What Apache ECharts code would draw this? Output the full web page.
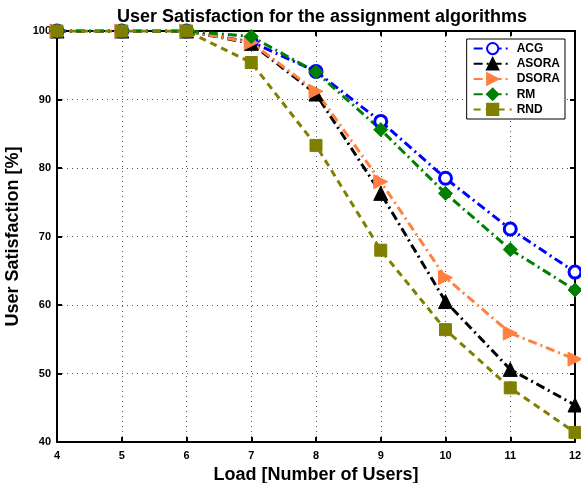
<!DOCTYPE html>
<html><head><meta charset="utf-8">
<script src="https://cdn.jsdelivr.net/npm/echarts@6/dist/echarts.min.js"></script>
<style>html,body{margin:0;padding:0;background:#fff;overflow:hidden}#c{width:581px;height:483px}</style>
</head><body><div id="c"></div>
<script>
const loads = [4,5,6,7,8,9,10,11,12];
const ACG   = [100,100,100,98.4,94.1,86.8,78.5,71.1,64.8];
const ASORA = [100,100,100,98.2,90.8,76.3,60.5,50.6,45.4];
const DSORA = [100,100,100,98.3,91.2,78.0,64.0,55.9,52.1];
const RM    = [100,100,100,99.2,94.0,85.6,76.3,68.1,62.2];
const RND   = [100,100,100,95.4,83.3,68.0,56.4,47.9,41.4];
const yTicks = [40,50,60,70,80,90,100];

const font = 'Liberation Sans, Arial, Helvetica, sans-serif';
function pair(arr){ return loads.map((x,i)=>[x,arr[i]]); }
function mk(name, data, color, symbol, dash, size, hollow){
  return {
    name, type:'line', data:pair(data), symbol, symbolSize:size,
    lineStyle:{color, width:3, type:dash},
    itemStyle:{color: hollow ? '#fff' : color, borderColor:color, borderWidth: hollow?3:1},
    z: 3
  };
}
const dashDot = [9,4,2,4];
const chart = echarts.init(document.getElementById('c'), null, {renderer:'canvas'});
chart.setOption({
  animation:false,
  backgroundColor:'#fff',
  textStyle:{fontFamily:font},
  title:{text:'User Satisfaction for the assignment algorithms', left:317, top:3, textAlign:'center',
    textStyle:{fontSize:18, fontWeight:'bold', color:'#000', fontFamily:font}},
  grid:{left:57, right:6, top:31, bottom:41, show:true, borderColor:'#000', borderWidth:2,
    containLabel:false, outerBoundsMode:'none'},
  legend:{
    orient:'vertical', right:16, top:39, backgroundColor:'#fff', borderColor:'#000', borderWidth:1,
    padding:[3,5,3,6], itemGap:2, itemWidth:38, itemHeight:14,
    textStyle:{fontSize:12, fontWeight:'bold', color:'#000', fontFamily:font},
    data:['ACG','ASORA','DSORA','RM','RND']
  },
  xAxis:[{
    type:'value', min:4, max:12, interval:1,
    name:'Load [Number of Users]', nameLocation:'middle', nameGap:17,
    nameTextStyle:{fontSize:18, fontWeight:'bold', color:'#000', fontFamily:font},
    axisLine:{lineStyle:{color:'#000', width:2}},
    axisTick:{inside:true, length:5, lineStyle:{color:'#000', width:2}},
    axisLabel:{fontSize:11, fontWeight:'bold', color:'#000', margin:8, fontFamily:font},
    splitLine:{show:true, lineStyle:{color:'#555', type:[1,4], width:1}}
  },{
    type:'value', min:4, max:12, interval:1, position:'top',
    axisLine:{lineStyle:{color:'#000', width:2}},
    axisTick:{inside:true, length:5, lineStyle:{color:'#000', width:2}},
    axisLabel:{show:false}, splitLine:{show:false}
  }],
  yAxis:[{
    type:'value', min:40, max:100, interval:10,
    name:'User Satisfaction [%]', nameLocation:'middle', nameGap:34,
    nameTextStyle:{fontSize:18, fontWeight:'bold', color:'#000', fontFamily:font},
    axisLine:{lineStyle:{color:'#000', width:2}},
    axisTick:{inside:true, length:5, lineStyle:{color:'#000', width:2}},
    axisLabel:{fontSize:11, fontWeight:'bold', color:'#000', margin:6, fontFamily:font,
      formatter:v=>yTicks.includes(v)?String(v):''},
    splitLine:{show:true, lineStyle:{color:'#555', type:[1,4], width:1}}
  },{
    type:'value', min:40, max:100, interval:10, position:'right',
    axisLine:{lineStyle:{color:'#000', width:2}},
    axisTick:{inside:true, length:5, lineStyle:{color:'#000', width:2}},
    axisLabel:{show:false}, splitLine:{show:false}
  }],
  series:[
    mk('ACG', ACG, '#0000ff', 'circle', dashDot, 12, true),
    mk('ASORA', ASORA, '#000000', 'triangle', dashDot, 14, false),
    mk('DSORA', DSORA, '#ff8040', 'path://M0,0 L10,5 L0,10 Z', dashDot, 14, false),
    mk('RM', RM, '#008000', 'diamond', dashDot, 14, false),
    mk('RND', RND, '#808000', 'rect', [7,5], 12, false)
  ]
});
</script></body></html>
